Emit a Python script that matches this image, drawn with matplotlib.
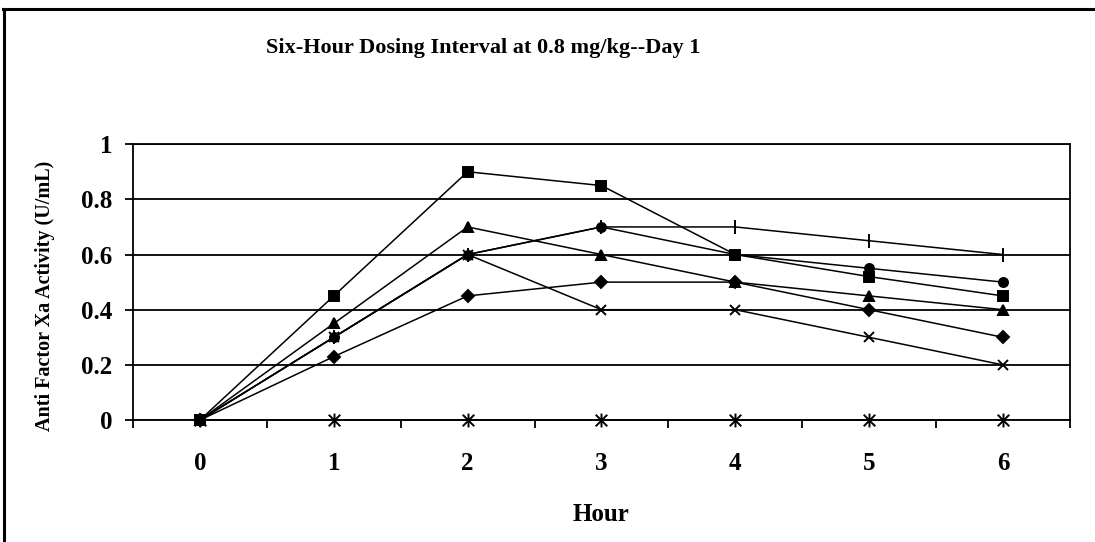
import matplotlib
matplotlib.use("Agg")
import matplotlib.pyplot as plt
from matplotlib.lines import Line2D
from matplotlib.path import Path

# Anti Factor Xa activity, six-hour dosing at 0.8 mg/kg, day 1
hours = [0, 1, 2, 3, 4, 5, 6]
s_diamond = [0, 0.23, 0.45, 0.5, 0.5, 0.4, 0.3]
s_square = [0, 0.45, 0.9, 0.85, 0.6, 0.52, 0.45]
s_triangle = [0, 0.35, 0.7, 0.6, 0.5, 0.45, 0.4]
s_x = [0, 0.3, 0.6, 0.4, 0.4, 0.3, 0.2]
s_star = [0, 0, 0, 0, 0, 0, 0]
s_circle = [0, 0.3, 0.6, 0.7, 0.6, 0.55, 0.5]
s_plus = [0, 0.3, 0.6, 0.7, 0.7, 0.65, 0.6]

yticks = [0, 0.2, 0.4, 0.6, 0.8, 1]
ytick_labels = ["0", "0.2", "0.4", "0.6", "0.8", "1"]

plt.rcParams['font.family'] = ['Liberation Serif', 'DejaVu Serif']
plt.rcParams['font.weight'] = 'bold'

# Excel asterisk: an x with a vertical bar through it
star = Path([(-1, -1), (1, 1), (-1, 1), (1, -1), (0, -1.2), (0, 1.2)],
            [Path.MOVETO, Path.LINETO, Path.MOVETO, Path.LINETO, Path.MOVETO, Path.LINETO])

fig = plt.figure(figsize=(10.95, 5.42), dpi=100)
ax = fig.add_axes([0.1215, 0.225, 0.8555, 0.509])

# Excel-style marker order, all black
series = [
    (s_diamond, "D", 6),
    (s_square, "s", 6.5),
    (s_triangle, "^", 7.5),
    (s_x, "x", 7.5),
    (s_star, star, 10),
    (s_circle, "o", 6.5),
    (s_plus, "|", 10),
]
for vals, mk, ms in series:
    ax.plot(hours, vals, color="black", lw=1.1, marker=mk, ms=ms,
            mew=1.4, mfc="black", mec="black", zorder=3, clip_on=False)

ax.set_xlim(-0.5, 6.5)
ax.set_ylim(0, 1)
ax.set_yticks(yticks)
ax.set_yticklabels(ytick_labels)
ax.set_xticks(hours)
ax.set_xticklabels([str(h) for h in hours])
ax.tick_params(axis='x', length=0, pad=23, labelsize=18)
ax.tick_params(axis='y', direction='out', length=6, width=1.3, pad=9, labelsize=18)
# category boundary ticks
ax.set_xticks([h - 0.5 for h in hours] + [6.5], minor=True)
ax.tick_params(axis='x', which='minor', direction='out', length=6, width=1.3)
ax.yaxis.grid(True, color="black", lw=1.3)
ax.set_axisbelow(True)
for sp in ax.spines.values():
    sp.set_linewidth(1.3)

ax.set_xlabel("Hour", fontsize=18, fontweight='bold')
ax.xaxis.set_label_coords(0.5, -0.30)
ax.set_ylabel("Anti Factor Xa Activity (U/mL)", fontsize=14.5, fontweight='bold')
ax.yaxis.set_label_coords(-0.083, 0.45)

fig.text(0.441, 0.911, "Six-Hour Dosing Interval at 0.8 mg/kg--Day 1",
         ha="center", va="center", fontsize=16, fontweight='bold')

# outer chart frame (top and left edges visible)
fig.add_artist(Line2D([0.003, 1.0], [0.984, 0.984], color="black", lw=2.2,
                      transform=fig.transFigure))
fig.add_artist(Line2D([0.004, 0.004], [0.0, 0.984], color="black", lw=2.2,
                      transform=fig.transFigure))

fig.savefig("out.png", dpi=100)
